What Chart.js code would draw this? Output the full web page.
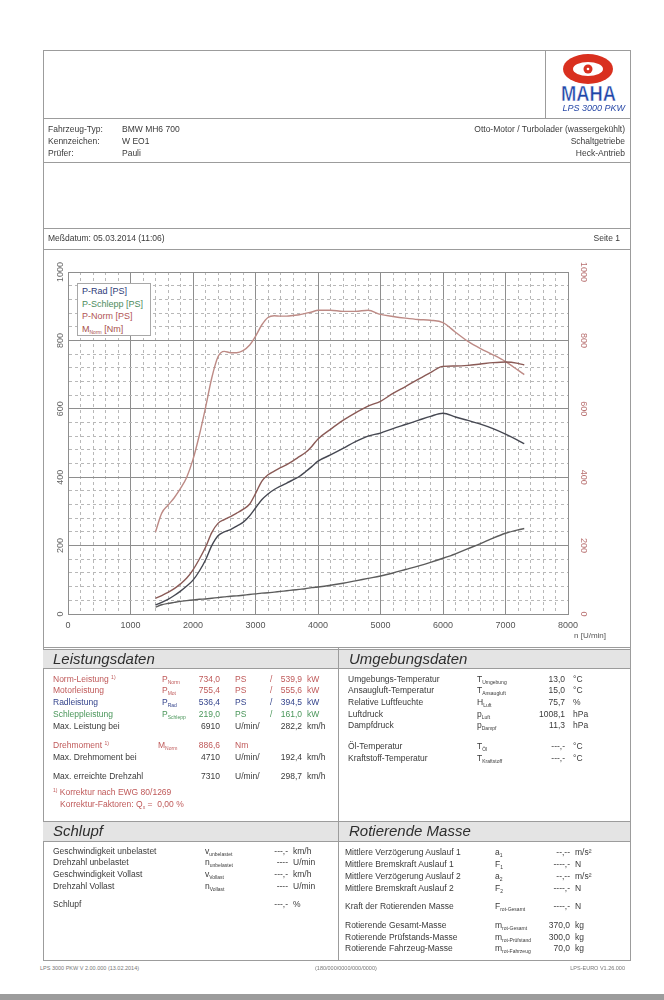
<!DOCTYPE html>
<html>
<head>
<meta charset="utf-8">
<script src="https://cdn.jsdelivr.net/npm/chart.js@4.4.1/dist/chart.umd.min.js"></script>
<style>
  body { margin: 0; background: #fff; }
  #page { position: relative; width: 664px; height: 1000px; overflow: hidden;
          font-family: "Liberation Sans", Arial, sans-serif; font-size: 8.5px; color: #3a3a3a; }
  .t { position: absolute; white-space: nowrap; line-height: 10px; }
  .ln { position: absolute; background: #9c9c9c; }
  .band { position: absolute; background: #e4e4e4; border-top: 1px solid #9c9c9c; border-bottom: 1px solid #9c9c9c; }
  .ttl { position: absolute; font-style: italic; font-size: 15px; line-height: 18px; color: #2e2e2e; }
  sub { font-size: 5px; vertical-align: -2px; line-height: 0; }
  sup { font-size: 5px; vertical-align: 3px; line-height: 0; }
  #legend { position: absolute; left: 77px; top: 283px; width: 74px; height: 53px; background: #fff;
            border: 1px solid #a8a8a8; font-size: 9px; line-height: 12.7px; padding: 1px 0 0 4px; box-sizing: border-box; }
  #chart { position: absolute; left: 43px; top: 250px; }
</style>
</head>
<body>
<div id="page">
  <canvas id="chart" width="587" height="397"></canvas>
  <div id="legend">
    <div style="color:#2d3a78">P-Rad [PS]</div>
    <div style="color:#4c8c5c">P-Schlepp [PS]</div>
    <div style="color:#b25555">P-Norm [PS]</div>
    <div style="color:#a8504a">M<sub>Norm</sub> [Nm]</div>
  </div>
</div>

<script>
// Drehzahl [U/min] der Messpunkte
const rpm = [1400, 1500, 1600, 1700, 1800, 1900, 2000, 2100, 2200, 2300, 2400, 2500, 2600, 2700,
  2800, 2900, 3000, 3100, 3200, 3300, 3400, 3500, 3600, 3700, 3800, 3900, 4000,
  4200, 4400, 4600, 4800, 5000, 5200, 5400, 5600, 5800, 6000, 6200, 6400, 6600, 6800, 7000, 7200, 7300]

const pRad = [26, 34, 43, 54, 67, 82, 99, 125, 158, 200, 229, 240, 247, 257,
  268, 286, 310, 334, 351, 364, 374, 383, 392, 402, 416, 431, 447,
  465, 484, 504, 520, 529, 542, 554, 566, 578, 587, 576, 566, 555, 542, 526, 508, 498]

const pSchlepp = [20, 27, 31, 34, 37, 39, 41, 43, 44, 46, 48, 50, 52, 53,
  55, 57, 59, 61, 62, 64, 66, 68, 70, 72, 74, 77, 79,
  84, 90, 97, 104, 111, 120, 130, 140, 151, 163, 176, 191, 206, 222, 236, 246, 250]

const pNorm = [46, 54, 63, 74, 88, 105, 129, 160, 195, 238, 265, 276, 285, 295,
  306, 320, 352, 388, 407, 418, 428, 437, 448, 460, 472, 490, 512,
  540, 566, 588, 608, 622, 645, 665, 686, 706, 724, 725, 727, 731, 735, 737, 733, 728]

const mNorm = [240, 295, 318, 340, 367, 400, 452, 522, 603, 690, 752, 768, 764, 764,
  770, 785, 812, 845, 867, 872, 871, 871, 873, 875, 879, 883, 888,
  888, 885, 885, 888, 876, 870, 865, 861, 859, 852, 824, 797, 776, 758, 738, 713, 700]

const rpmLabels = [0, 1000, 2000, 3000, 4000, 5000, 6000, 7000, 8000]
const psLabels = [0, 200, 400, 600, 800, 1000]
const nmLabels = [0, 200, 400, 600, 800, 1000]

const MAJOR = '#8e8e8e'
const MINOR = '#b8b8b8'

const page = document.getElementById('page')

function put(x, y, html, style, right) {
  const d = document.createElement('div')
  d.className = 't'
  d.innerHTML = html
  d.style.top = (y - 5) + 'px'
  if (right) d.style.right = (664 - x) + 'px'
  else d.style.left = x + 'px'
  if (style) d.style.cssText += style
  page.appendChild(d)
}
function line(x, y, w, h) {
  const d = document.createElement('div')
  d.className = 'ln'
  d.style.cssText = `left:${x}px;top:${y}px;width:${w}px;height:${h}px`
  page.appendChild(d)
}
function band(x, y, w, h, title) {
  const d = document.createElement('div')
  d.className = 'band'
  d.style.cssText = `left:${x}px;top:${y}px;width:${w}px;height:${h}px`
  page.appendChild(d)
  const t = document.createElement('div')
  t.className = 'ttl'
  t.textContent = title
  t.style.cssText = `left:${x + 10}px;top:${y + 1}px`
  page.appendChild(t)
}

// Rahmen
line(43, 50, 587, 1); line(43, 960, 588, 1); line(43, 50, 1, 910); line(630, 50, 1, 910)
line(43, 118, 587, 1); line(545, 50, 1, 68)
line(43, 162, 587, 1); line(43, 228, 587, 1); line(43, 249, 587, 1); line(43, 647, 587, 1)
line(338, 647, 1, 313)
band(43, 649, 295, 18, 'Leistungsdaten')
band(339, 649, 291, 18, 'Umgebungsdaten')
band(43, 821, 295, 19, 'Schlupf')
band(339, 821, 291, 19, 'Rotierende Masse')

// Logo
const logo = document.createElement('div')
logo.style.cssText = 'position:absolute;left:553px;top:52px;'
logo.innerHTML = `<svg width="72" height="52" viewBox="0 0 72 52">
  <ellipse cx="35" cy="17" rx="25" ry="15" fill="#d9301f"/>
  <ellipse cx="35" cy="17" rx="15" ry="7" fill="#fff"/>
  <circle cx="35" cy="17" r="4.5" fill="#d9301f"/>
  <circle cx="35" cy="17" r="1.3" fill="#fff"/>
  <text x="8" y="49" font-family="Liberation Sans, Arial" font-weight="bold" textLength="55" lengthAdjust="spacingAndGlyphs"
        font-size="22" fill="#1f45a8" stroke="#fff" stroke-width="0.5">MAHA</text>
</svg>`
page.appendChild(logo)
put(625, 108, 'LPS 3000 PKW', 'color:#2a4aa8;font-style:italic;font-size:9px', true)

// Fahrzeugdaten
put(48, 129, 'Fahrzeug-Typ:'); put(122, 129, 'BMW MH6 700')
put(48, 141, 'Kennzeichen:'); put(122, 141, 'W EO1')
put(48, 153, 'Prüfer:'); put(122, 153, 'Pauli')
put(625, 129, 'Otto-Motor / Turbolader (wassergekühlt)', '', true)
put(625, 141, 'Schaltgetriebe', '', true)
put(625, 153, 'Heck-Antrieb', '', true)
put(48, 238, 'Meßdatum: 05.03.2014 (11:06)')
put(620, 238, 'Seite 1', '', true)
put(574, 636, 'n [U/min]', 'font-size:8px;color:#555')

// Leistungsdaten
const RED = 'color:#bf5858', BLUE = 'color:#34448c', GREEN = 'color:#4a965a'
const perf = [
  [679, 'Norm-Leistung <sup>1)</sup>', 'P<sub>Norm</sub>', '734,0', 'PS', '539,9', 'kW', RED],
  [690, 'Motorleistung', 'P<sub>Mot</sub>', '755,4', 'PS', '555,6', 'kW', RED],
  [702, 'Radleistung', 'P<sub>Rad</sub>', '536,4', 'PS', '394,5', 'kW', BLUE],
  [714, 'Schleppleistung', 'P<sub>Schlepp</sub>', '219,0', 'PS', '161,0', 'kW', GREEN],
  [726, 'Max. Leistung bei', '', '6910', 'U/min/', '282,2', 'km/h', ''],
  [745, 'Drehmoment <sup>1)</sup>', 'M<sub>Norm</sub>', '886,6', 'Nm', '', '', RED],
  [757, 'Max. Drehmoment bei', '', '4710', 'U/min/', '192,4', 'km/h', ''],
  [776, 'Max. erreichte Drehzahl', '', '7310', 'U/min/', '298,7', 'km/h', '']
]
for (const [y, lab, sym, v1, u1, v2, u2, c] of perf) {
  put(53, y, lab, c)
  if (sym) put(y === 745 ? 158 : 162, y, sym, c)
  put(220, y, v1, c, true)
  put(235, y, u1, c)
  if (v2) {
    if (u1 === 'PS') put(270, y, '/', c)
    put(302, y, v2, c, true)
    put(307, y, u2, c)
  }
}
put(53, 792, '<sup>1)</sup> Korrektur nach EWG 80/1269', RED)
put(60, 804, 'Korrektur-Faktoren: Q<sub>x</sub> =&nbsp;&nbsp;0,00 %', RED)

// Umgebungsdaten
const env = [
  [679, 'Umgebungs-Temperatur', 'T<sub>Umgebung</sub>', '13,0', '°C'],
  [690, 'Ansaugluft-Temperatur', 'T<sub>Ansaugluft</sub>', '15,0', '°C'],
  [702, 'Relative Luftfeuchte', 'H<sub>Luft</sub>', '75,7', '%'],
  [714, 'Luftdruck', 'p<sub>Luft</sub>', '1008,1', 'hPa'],
  [725, 'Dampfdruck', 'p<sub>Dampf</sub>', '11,3', 'hPa'],
  [746, 'Öl-Temperatur', 'T<sub>Öl</sub>', '---,-', '°C'],
  [758, 'Kraftstoff-Temperatur', 'T<sub>Kraftstoff</sub>', '---,-', '°C']
]
for (const [y, lab, sym, v, u] of env) {
  put(348, y, lab); put(477, y, sym); put(565, y, v, '', true); put(573, y, u)
}

// Schlupf
const slip = [
  [851, 'Geschwindigkeit unbelastet', 'v<sub>unbelastet</sub>', '---,-', 'km/h'],
  [862, 'Drehzahl unbelastet', 'n<sub>unbelastet</sub>', '----', 'U/min'],
  [874, 'Geschwindigkeit Vollast', 'v<sub>Vollast</sub>', '---,-', 'km/h'],
  [886, 'Drehzahl Vollast', 'n<sub>Vollast</sub>', '----', 'U/min'],
  [904, 'Schlupf', '', '---,-', '%']
]
for (const [y, lab, sym, v, u] of slip) {
  put(53, y, lab); if (sym) put(205, y, sym); put(288, y, v, '', true); put(293, y, u)
}

// Rotierende Masse
const rot = [
  [852, 'Mittlere Verzögerung Auslauf 1', 'a<sub>1</sub>', '--,--', 'm/s²'],
  [864, 'Mittlere Bremskraft Auslauf 1', 'F<sub>1</sub>', '----,-', 'N'],
  [876, 'Mittlere Verzögerung Auslauf 2', 'a<sub>2</sub>', '--,--', 'm/s²'],
  [888, 'Mittlere Bremskraft Auslauf 2', 'F<sub>2</sub>', '----,-', 'N'],
  [906, 'Kraft der Rotierenden Masse', 'F<sub>rot-Gesamt</sub>', '----,-', 'N'],
  [925, 'Rotierende Gesamt-Masse', 'm<sub>rot-Gesamt</sub>', '370,0', 'kg'],
  [937, 'Rotierende Prüfstands-Masse', 'm<sub>rot-Prüfstand</sub>', '300,0', 'kg'],
  [948, 'Rotierende Fahrzeug-Masse', 'm<sub>rot-Fahrzeug</sub>', '70,0', 'kg']
]
for (const [y, lab, sym, v, u] of rot) {
  put(345, y, lab); put(495, y, sym); put(570, y, v, '', true); put(575, y, u)
}

// Fußzeile
put(40, 968, 'LPS 3000 PKW V 2.00.000 (13.02.2014)', 'font-size:5.5px;color:#777')
put(315, 968, '(180/000/0000/000/0000)', 'font-size:5.5px;color:#777')
put(625, 968, 'LPS-EURO V1.26.000', 'font-size:5.5px;color:#777', true)
line(0, 994, 664, 6)

// Diagramm
const pts = vals => rpm.map((r, i) => ({x: r, y: vals[i]}))
const ticksFrom = (lo, hi, step) => {
  const a = []
  for (let v = lo; v <= hi; v += step) a.push({value: v})
  return a
}
const gridColor = every => c => (c.tick && c.tick.value % every === 0) ? MAJOR : MINOR
const gridDash = every => c => (c.tick && c.tick.value % every !== 0) ? [3, 3] : []

const ds = (label, data, color, axis) => ({
  label, data: pts(data), borderColor: color, borderWidth: 1.4, pointRadius: 0,
  cubicInterpolationMode: 'monotone', fill: false, yAxisID: axis
})

new Chart(document.getElementById('chart'), {
  type: 'line',
  data: {
    datasets: [
      ds('P-Schlepp [PS]', pSchlepp, '#5c5c5c', 'y'),
      ds('P-Rad [PS]', pRad, '#464852', 'y'),
      ds('P-Norm [PS]', pNorm, '#8a5a56', 'y'),
      ds('M Norm [Nm]', mNorm, '#bd8a85', 'y2')
    ]
  },
  options: {
    responsive: false,
    animation: false,
    layout: { padding: { top: 22, left: 0, right: 0, bottom: 0 } },
    plugins: { legend: { display: false }, tooltip: { enabled: false } },
    scales: {
      x: {
        type: 'linear', min: 0, max: 8000,
        afterBuildTicks: s => { s.ticks = ticksFrom(0, 8000, 200) },
        afterFit: s => { s.height = 33 },
        ticks: { autoSkip: false, maxRotation: 0, padding: 6, color: '#555', font: { size: 9 },
                 callback: v => rpmLabels.includes(v) ? String(v) : '' },
        grid: { drawTicks: false, color: gridColor(1000) },
        border: { color: MAJOR, dash: gridDash(1000) }
      },
      y: {
        position: 'left', min: 0, max: 1000,
        afterBuildTicks: s => { s.ticks = ticksFrom(0, 1000, 40) },
        afterFit: s => { s.width = 25 },
        ticks: { autoSkip: false, minRotation: 90, maxRotation: 90, crossAlign: 'center', padding: -3,
                 color: '#666', font: { size: 9 },
                 callback: v => psLabels.includes(v) ? String(v) : '' },
        grid: { drawTicks: false, color: gridColor(200) },
        border: { color: MAJOR, dash: gridDash(200) }
      },
      y2: {
        position: 'right', min: 0, max: 1000,
        afterBuildTicks: s => { s.ticks = ticksFrom(0, 1000, 200) },
        afterFit: s => { s.width = 62 },
        ticks: { autoSkip: false, minRotation: -90, maxRotation: -90, crossAlign: 'center', padding: 5,
                 color: '#b87070', font: { size: 9 },
                 callback: v => nmLabels.includes(v) ? String(v) : '' },
        grid: { drawOnChartArea: false, drawTicks: false },
        border: { color: MAJOR }
      }
    }
  }
})
</script>
</body>
</html>
